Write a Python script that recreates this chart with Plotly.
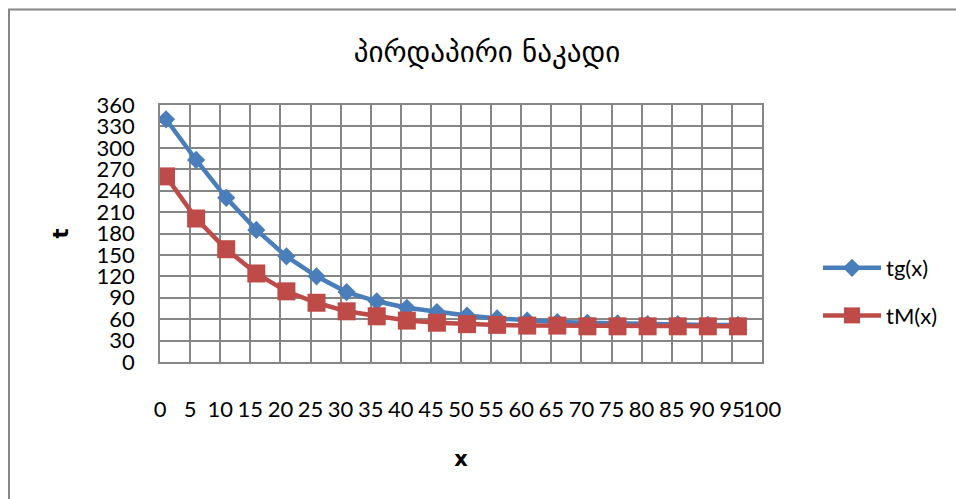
import plotly.graph_objects as go

x_vals = [1, 6, 11, 16, 21, 26, 31, 36, 41, 46, 51, 56, 61, 66, 71, 76, 81, 86, 91, 96]
tg_vals = [340, 283, 230, 185, 148, 120, 98, 85, 76, 70, 65, 61, 58, 56, 55, 54, 53, 53, 52, 52]
tm_vals = [260, 201, 158, 124, 99, 83, 71, 64, 58, 55, 53, 52, 51, 51, 50, 50, 50, 50, 50, 50]
title_text = "პირდაპირი ნაკადი"
x_title = "<b>x</b>"
y_title = "<b>t</b>"

BLUE = "#4A7EBB"
RED = "#BE4B48"
GRID = "#868686"
FONT = "Lato, 'Open Sans', sans-serif"

fig = go.Figure()
fig.add_trace(go.Scatter(
    x=x_vals, y=tg_vals, name="tg(x)", mode="lines+markers",
    line=dict(color=BLUE, width=4.5),
    marker=dict(symbol="diamond", size=14, color=BLUE),
    legendgroup="a",
))
fig.add_trace(go.Scatter(
    x=x_vals, y=tm_vals, name="tM(x)", mode="lines+markers",
    line=dict(color=RED, width=4.5),
    marker=dict(symbol="square", size=18, color=RED),
    legendgroup="b",
))

W, H = 956, 499
L, R, T, B = 160, 194, 105, 137
pw, ph = W - L - R, H - T - B

def px_x(p):
    return (p - L) / pw

def px_y(p):
    return (H - B - p) / ph

fig.update_layout(
    width=W, height=H,
    margin=dict(l=L, r=R, t=T, b=B, pad=0),
    paper_bgcolor="white", plot_bgcolor="white",
    font=dict(family=FONT, size=22, color="black"),
    title=dict(text=title_text, xref="container", x=487 / W, xanchor="center",
               yref="container", y=1 - 52 / H, yanchor="middle",
               font=dict(family="DejaVu Sans", size=29, color="black")),
    xaxis=dict(range=[0, 100], dtick=5, tick0=0, showgrid=True,
               gridcolor=GRID, gridwidth=1.5, zeroline=False,
               showline=True, linecolor=GRID, linewidth=1.5, mirror=True,
               ticks="outside", ticklen=27, tickcolor="rgba(0,0,0,0)",
               tickangle=0,
               tickfont=dict(size=22, family=FONT),
               title=dict(text=x_title, standoff=30,
                          font=dict(size=21, family="DejaVu Sans"))),
    yaxis=dict(range=[0, 360], dtick=30, tick0=0, showgrid=True,
               gridcolor=GRID, gridwidth=1.5, zeroline=False,
               showline=True, linecolor=GRID, linewidth=1.5, mirror=True,
               ticks="outside", ticklen=19, tickcolor="rgba(0,0,0,0)",
               tickfont=dict(size=22, family=FONT),
               title=dict(text=y_title, standoff=22,
                          font=dict(size=21, family="DejaVu Sans"))),
    legend=dict(x=px_x(818), xanchor="left", y=px_y(247), yanchor="top",
                font=dict(size=22, family=FONT), itemwidth=58,
                traceorder="grouped", tracegroupgap=16,
                bgcolor="rgba(0,0,0,0)"),
    showlegend=True,
    shapes=[dict(type="rect", xref="paper", yref="paper",
                 x0=px_x(9), x1=px_x(1100), y0=px_y(600), y1=px_y(9.5),
                 line=dict(color=GRID, width=2), fillcolor="rgba(0,0,0,0)",
                 layer="below")],
)

fig.write_html("out.html")
